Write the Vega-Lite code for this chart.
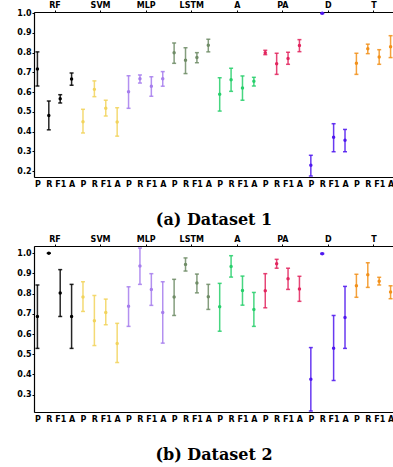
{
  "$schema": "https://vega.github.io/schema/vega-lite/v6.json",
  "padding": {"left": 16, "top": 0, "right": 0, "bottom": 0},
  "background": "white",
  "spacing": 5,
  "config": {
    "view": {"stroke": "#999999", "strokeWidth": 1},
    "axis": {"domainColor": "black", "domainWidth": 1.2, "labelFont": "DejaVu Sans", "labelFontWeight": "bold", "labelFontSize": 8, "labelColor": "black", "tickColor": "black", "tickSize": 2, "grid": false, "labelOverlap": false, "labelFlush": false}
  },
  "datasets": {
    "d1": [
      {"group": "RF", "metric": "P", "key": "RF P", "mean": 0.717, "lo": 0.631, "hi": 0.804},
      {"group": "RF", "metric": "R", "key": "RF R", "mean": 0.482, "lo": 0.409, "hi": 0.555},
      {"group": "RF", "metric": "F1", "key": "RF F1", "mean": 0.567, "lo": 0.545, "hi": 0.587},
      {"group": "RF", "metric": "A", "key": "RF A", "mean": 0.667, "lo": 0.635, "hi": 0.697},
      {"group": "SVM", "metric": "P", "key": "SVM P", "mean": 0.450, "lo": 0.393, "hi": 0.513},
      {"group": "SVM", "metric": "R", "key": "SVM R", "mean": 0.614, "lo": 0.577, "hi": 0.657},
      {"group": "SVM", "metric": "F1", "key": "SVM F1", "mean": 0.518, "lo": 0.479, "hi": 0.559},
      {"group": "SVM", "metric": "A", "key": "SVM A", "mean": 0.449, "lo": 0.377, "hi": 0.521},
      {"group": "MLP", "metric": "P", "key": "MLP P", "mean": 0.602, "lo": 0.518, "hi": 0.683},
      {"group": "MLP", "metric": "R", "key": "MLP R", "mean": 0.668, "lo": 0.646, "hi": 0.687},
      {"group": "MLP", "metric": "F1", "key": "MLP F1", "mean": 0.630, "lo": 0.579, "hi": 0.678},
      {"group": "MLP", "metric": "A", "key": "MLP A", "mean": 0.668, "lo": 0.630, "hi": 0.704},
      {"group": "LSTM", "metric": "P", "key": "LSTM P", "mean": 0.799, "lo": 0.746, "hi": 0.849},
      {"group": "LSTM", "metric": "R", "key": "LSTM R", "mean": 0.762, "lo": 0.694, "hi": 0.825},
      {"group": "LSTM", "metric": "F1", "key": "LSTM F1", "mean": 0.775, "lo": 0.749, "hi": 0.800},
      {"group": "LSTM", "metric": "A", "key": "LSTM A", "mean": 0.838, "lo": 0.804, "hi": 0.868},
      {"group": "A", "metric": "P", "key": "A P", "mean": 0.589, "lo": 0.504, "hi": 0.673},
      {"group": "A", "metric": "R", "key": "A R", "mean": 0.663, "lo": 0.604, "hi": 0.721},
      {"group": "A", "metric": "F1", "key": "A F1", "mean": 0.621, "lo": 0.559, "hi": 0.682},
      {"group": "A", "metric": "A", "key": "A A", "mean": 0.655, "lo": 0.631, "hi": 0.675},
      {"group": "PA", "metric": "P", "key": "PA P", "mean": 0.800, "lo": 0.790, "hi": 0.812},
      {"group": "PA", "metric": "R", "key": "PA R", "mean": 0.744, "lo": 0.690, "hi": 0.797},
      {"group": "PA", "metric": "F1", "key": "PA F1", "mean": 0.770, "lo": 0.741, "hi": 0.802},
      {"group": "PA", "metric": "A", "key": "PA A", "mean": 0.836, "lo": 0.805, "hi": 0.866},
      {"group": "D", "metric": "P", "key": "D P", "mean": 0.229, "lo": 0.175, "hi": 0.280},
      {"group": "D", "metric": "R", "key": "D R", "mean": 1.0, "lo": 0.998, "hi": 1.0},
      {"group": "D", "metric": "F1", "key": "D F1", "mean": 0.371, "lo": 0.298, "hi": 0.440},
      {"group": "D", "metric": "A", "key": "D A", "mean": 0.356, "lo": 0.298, "hi": 0.411},
      {"group": "T", "metric": "P", "key": "T P", "mean": 0.746, "lo": 0.690, "hi": 0.797},
      {"group": "T", "metric": "R", "key": "T R", "mean": 0.820, "lo": 0.795, "hi": 0.843},
      {"group": "T", "metric": "F1", "key": "T F1", "mean": 0.778, "lo": 0.741, "hi": 0.815},
      {"group": "T", "metric": "A", "key": "T A", "mean": 0.830, "lo": 0.775, "hi": 0.886}
    ],
    "d2": [
      {"group": "RF", "metric": "P", "key": "RF P", "mean": 0.687, "lo": 0.529, "hi": 0.843},
      {"group": "RF", "metric": "R", "key": "RF R", "mean": 1.0, "lo": 1.0, "hi": 1.0},
      {"group": "RF", "metric": "F1", "key": "RF F1", "mean": 0.803, "lo": 0.687, "hi": 0.919},
      {"group": "RF", "metric": "A", "key": "RF A", "mean": 0.687, "lo": 0.529, "hi": 0.846},
      {"group": "SVM", "metric": "P", "key": "SVM P", "mean": 0.783, "lo": 0.712, "hi": 0.859},
      {"group": "SVM", "metric": "R", "key": "SVM R", "mean": 0.666, "lo": 0.543, "hi": 0.791},
      {"group": "SVM", "metric": "F1", "key": "SVM F1", "mean": 0.707, "lo": 0.646, "hi": 0.773},
      {"group": "SVM", "metric": "A", "key": "SVM A", "mean": 0.553, "lo": 0.459, "hi": 0.653},
      {"group": "MLP", "metric": "P", "key": "MLP P", "mean": 0.738, "lo": 0.638, "hi": 0.834},
      {"group": "MLP", "metric": "R", "key": "MLP R", "mean": 0.937, "lo": 0.846, "hi": 1.026},
      {"group": "MLP", "metric": "F1", "key": "MLP F1", "mean": 0.821, "lo": 0.742, "hi": 0.899},
      {"group": "MLP", "metric": "A", "key": "MLP A", "mean": 0.707, "lo": 0.555, "hi": 0.859},
      {"group": "LSTM", "metric": "P", "key": "LSTM P", "mean": 0.783, "lo": 0.692, "hi": 0.871},
      {"group": "LSTM", "metric": "R", "key": "LSTM R", "mean": 0.945, "lo": 0.912, "hi": 0.977},
      {"group": "LSTM", "metric": "F1", "key": "LSTM F1", "mean": 0.853, "lo": 0.804, "hi": 0.897},
      {"group": "LSTM", "metric": "A", "key": "LSTM A", "mean": 0.785, "lo": 0.722, "hi": 0.846},
      {"group": "A", "metric": "P", "key": "A P", "mean": 0.735, "lo": 0.614, "hi": 0.851},
      {"group": "A", "metric": "R", "key": "A R", "mean": 0.935, "lo": 0.882, "hi": 0.988},
      {"group": "A", "metric": "F1", "key": "A F1", "mean": 0.816, "lo": 0.743, "hi": 0.887},
      {"group": "A", "metric": "A", "key": "A A", "mean": 0.722, "lo": 0.638, "hi": 0.806},
      {"group": "PA", "metric": "P", "key": "PA P", "mean": 0.814, "lo": 0.730, "hi": 0.899},
      {"group": "PA", "metric": "R", "key": "PA R", "mean": 0.948, "lo": 0.926, "hi": 0.970},
      {"group": "PA", "metric": "F1", "key": "PA F1", "mean": 0.874, "lo": 0.821, "hi": 0.926},
      {"group": "PA", "metric": "A", "key": "PA A", "mean": 0.823, "lo": 0.762, "hi": 0.886},
      {"group": "D", "metric": "P", "key": "D P", "mean": 0.376, "lo": 0.219, "hi": 0.533},
      {"group": "D", "metric": "R", "key": "D R", "mean": 0.998, "lo": 0.996, "hi": 1.0},
      {"group": "D", "metric": "F1", "key": "D F1", "mean": 0.530, "lo": 0.370, "hi": 0.692},
      {"group": "D", "metric": "A", "key": "D A", "mean": 0.682, "lo": 0.529, "hi": 0.836},
      {"group": "T", "metric": "P", "key": "T P", "mean": 0.839, "lo": 0.782, "hi": 0.896},
      {"group": "T", "metric": "R", "key": "T R", "mean": 0.894, "lo": 0.831, "hi": 0.953},
      {"group": "T", "metric": "F1", "key": "T F1", "mean": 0.861, "lo": 0.843, "hi": 0.881},
      {"group": "T", "metric": "A", "key": "T A", "mean": 0.808, "lo": 0.775, "hi": 0.839}
    ]
  },
  "vconcat": [
    {
      "width": 360,
      "height": 165,
      "data": {"name": "d1"},
      "title": {"text": "(a) Dataset 1", "orient": "bottom", "font": "DejaVu Serif", "fontWeight": "bold", "fontSize": 16, "offset": 24, "color": "black"},
      "layer": [
        {
          "mark": {"type": "errorbar", "ticks": {"size": 4}, "thickness": 1.5, "opacity": 0.85},
          "encoding": {
            "x": {"field": "key", "type": "nominal", "sort": null, "scale": {"type": "point", "padding": 0.3}, "axis": {"title": null, "labelExpr": "split(datum.value, ' ')[1]", "labelAngle": 0, "ticks": false, "labelPadding": 3}},
            "y": {"field": "lo", "type": "quantitative", "scale": {"domain": [0.17, 1.006], "nice": false, "zero": false}, "axis": {"title": null, "values": [0.2, 0.3, 0.4, 0.5, 0.6, 0.7, 0.8, 0.9, 1.0], "format": ".1f", "labelPadding": 1}},
            "y2": {"field": "hi"},
            "color": {"field": "group", "type": "nominal", "legend": null, "scale": {"domain": ["RF", "SVM", "MLP", "LSTM", "A", "PA", "D", "T"], "range": ["#000000", "#f2d45c", "#a67ded", "#6f8c66", "#27cf6b", "#e2255e", "#4f18ef", "#f2901a"]}}
          }
        },
        {
          "mark": {"type": "point", "filled": true, "size": 12, "opacity": 1},
          "encoding": {
            "x": {"field": "key", "type": "nominal", "sort": null, "scale": {"type": "point", "padding": 0.3}, "axis": null},
            "y": {"field": "mean", "type": "quantitative", "axis": {"title": null, "values": [0.2, 0.3, 0.4, 0.5, 0.6, 0.7, 0.8, 0.9, 1.0], "format": ".1f", "labelPadding": 1}},
            "color": {"field": "group", "type": "nominal", "legend": null}
          }
        },
        {
          "mark": {"type": "tick", "opacity": 0},
          "encoding": {
            "x": {"field": "group", "type": "nominal", "sort": ["RF", "SVM", "MLP", "LSTM", "A", "PA", "D", "T"], "scale": {"type": "point", "padding": 0.45}, "axis": {"title": null, "orient": "top", "labelAngle": 0, "labelPadding": 1}}
          }
        }
      ],
      "resolve": {"scale": {"x": "independent"}, "axis": {"x": "independent"}}
    },
    {
      "width": 360,
      "height": 166,
      "data": {"name": "d2"},
      "title": {"text": "(b) Dataset 2", "orient": "bottom", "font": "DejaVu Serif", "fontWeight": "bold", "fontSize": 16, "offset": 24, "color": "black"},
      "layer": [
        {
          "mark": {"type": "errorbar", "ticks": {"size": 4}, "thickness": 1.5, "opacity": 0.85},
          "encoding": {
            "x": {"field": "key", "type": "nominal", "sort": null, "scale": {"type": "point", "padding": 0.3}, "axis": {"title": null, "labelExpr": "split(datum.value, ' ')[1]", "labelAngle": 0, "ticks": false, "labelPadding": 3}},
            "y": {"field": "lo", "type": "quantitative", "scale": {"domain": [0.214, 1.036], "nice": false, "zero": false}, "axis": {"title": null, "values": [0.3, 0.4, 0.5, 0.6, 0.7, 0.8, 0.9, 1.0], "format": ".1f", "labelPadding": 1}},
            "y2": {"field": "hi"},
            "color": {"field": "group", "type": "nominal", "legend": null, "scale": {"domain": ["RF", "SVM", "MLP", "LSTM", "A", "PA", "D", "T"], "range": ["#000000", "#f2d45c", "#a67ded", "#6f8c66", "#27cf6b", "#e2255e", "#4f18ef", "#f2901a"]}}
          }
        },
        {
          "mark": {"type": "point", "filled": true, "size": 12, "opacity": 1},
          "encoding": {
            "x": {"field": "key", "type": "nominal", "sort": null, "scale": {"type": "point", "padding": 0.3}, "axis": null},
            "y": {"field": "mean", "type": "quantitative", "axis": {"title": null, "values": [0.3, 0.4, 0.5, 0.6, 0.7, 0.8, 0.9, 1.0], "format": ".1f", "labelPadding": 1}},
            "color": {"field": "group", "type": "nominal", "legend": null}
          }
        },
        {
          "mark": {"type": "tick", "opacity": 0},
          "encoding": {
            "x": {"field": "group", "type": "nominal", "sort": ["RF", "SVM", "MLP", "LSTM", "A", "PA", "D", "T"], "scale": {"type": "point", "padding": 0.45}, "axis": {"title": null, "orient": "top", "labelAngle": 0, "labelPadding": 1}}
          }
        }
      ],
      "resolve": {"scale": {"x": "independent"}, "axis": {"x": "independent"}}
    }
  ]
}
